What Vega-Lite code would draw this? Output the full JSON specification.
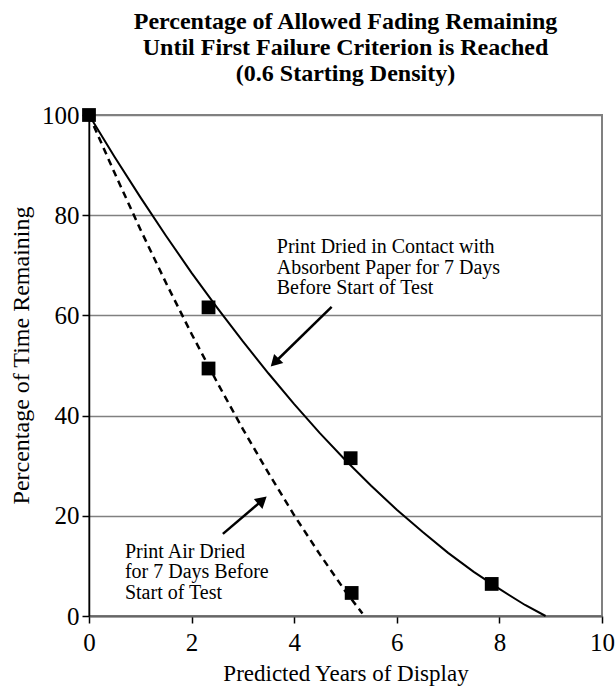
{
  "$schema": "https://vega.github.io/schema/vega-lite/v6.json",
  "autosize": {"type": "none"},
  "width": 513,
  "height": 501,
  "padding": {"left": 89, "top": 115, "right": 13, "bottom": 80},
  "background": "white",
  "config": {
    "font": "Liberation Serif",
    "view": {"stroke": "#808080", "strokeWidth": 2},
    "axis": {"labelFont": "Liberation Serif", "titleFont": "Liberation Serif", "labelColor": "black", "titleColor": "black", "titleFontWeight": "normal"}
  },
  "title": {
    "text": ["Percentage of Allowed Fading Remaining", "Until First Failure Criterion is Reached", "(0.6 Starting Density)"],
    "font": "Liberation Serif",
    "fontSize": 24,
    "fontWeight": "bold",
    "color": "black",
    "anchor": "middle",
    "frame": "group",
    "lineHeight": 26,
    "offset": 17
  },
  "datasets": {
    "solid": [
      {"x": 0, "y": 100}, {"x": 0.5, "y": 91.6}, {"x": 1, "y": 83.6}, {"x": 1.5, "y": 75.9},
      {"x": 2, "y": 68.5}, {"x": 2.5, "y": 61.5}, {"x": 3, "y": 54.8}, {"x": 3.5, "y": 48.4},
      {"x": 4, "y": 42.3}, {"x": 4.5, "y": 36.5}, {"x": 5, "y": 31.1}, {"x": 5.5, "y": 26.0},
      {"x": 6, "y": 21.2}, {"x": 6.5, "y": 16.8}, {"x": 7, "y": 12.6}, {"x": 7.5, "y": 8.8},
      {"x": 8, "y": 5.4}, {"x": 8.5, "y": 2.2}, {"x": 8.9, "y": 0}
    ],
    "dashed": [
      {"x": 0, "y": 100}, {"x": 0.5, "y": 88.4}, {"x": 1, "y": 77.2}, {"x": 1.5, "y": 66.5},
      {"x": 2, "y": 56.3}, {"x": 2.5, "y": 46.6}, {"x": 3, "y": 37.3}, {"x": 3.5, "y": 28.5},
      {"x": 4, "y": 20.1}, {"x": 4.5, "y": 12.3}, {"x": 5, "y": 4.9}, {"x": 5.33, "y": 0.5}
    ],
    "pts": [
      {"x": 0, "y": 100}, {"x": 2.33, "y": 61.6}, {"x": 2.33, "y": 49.4},
      {"x": 5.1, "y": 31.5}, {"x": 5.12, "y": 4.6}, {"x": 7.85, "y": 6.4}
    ],
    "arrows": [
      {"x": 4.73, "y": 61.7, "x2": 3.62, "y2": 50.6, "hx": 3.62, "hy": 50.6, "angle": 225},
      {"x": 2.61, "y": 16.4, "x2": 3.38, "y2": 23.1, "hx": 3.38, "hy": 23.1, "angle": 49}
    ],
    "notes": [
      {"x": 3.66, "y": 75.6, "label": "Print Dried in Contact with\nAbsorbent Paper for 7 Days\nBefore Start of Test"},
      {"x": 0.70, "y": 14.8, "label": "Print Air Dried\nfor 7 Days Before\nStart of Test"}
    ]
  },
  "encoding": {
    "x": {"type": "quantitative"},
    "y": {"type": "quantitative"}
  },
  "layer": [
    {
      "data": {"name": "solid"},
      "mark": {"type": "line", "color": "black", "strokeWidth": 2},
      "encoding": {
        "x": {"field": "x", "type": "quantitative", "scale": {"domain": [0, 10], "nice": false},
          "axis": {"title": "Predicted Years of Display", "values": [0, 2, 4, 6, 8, 10], "grid": false,
            "domainColor": "#666666", "domainWidth": 2, "tickColor": "black", "tickWidth": 1.5, "tickSize": 7,
            "labelFontSize": 25, "labelPadding": 7, "titleFontSize": 23, "titlePadding": 7, "labelFlush": false}},
        "y": {"field": "y", "type": "quantitative", "scale": {"domain": [0, 100], "nice": false},
          "axis": {"title": "Percentage of Time Remaining", "values": [0, 20, 40, 60, 80, 100], "grid": true,
            "gridColor": "#808080", "gridWidth": 1.5, "gridOpacity": 1,
            "domainColor": "black", "domainWidth": 1.5, "tickColor": "black", "tickWidth": 1.5, "tickSize": 7,
            "labelFontSize": 25, "labelPadding": 3, "titleFontSize": 24, "titlePadding": 8, "titleY": 240}}
      }
    },
    {
      "data": {"name": "dashed"},
      "mark": {"type": "line", "color": "black", "strokeWidth": 2.5, "strokeDash": [7, 5]},
      "encoding": {"x": {"field": "x", "type": "quantitative"}, "y": {"field": "y", "type": "quantitative"}}
    },
    {
      "data": {"name": "pts"},
      "mark": {"type": "point", "shape": "square", "filled": true, "color": "black", "size": 190, "opacity": 1},
      "encoding": {"x": {"field": "x", "type": "quantitative"}, "y": {"field": "y", "type": "quantitative"}}
    },
    {
      "data": {"name": "arrows"},
      "mark": {"type": "rule", "color": "black", "strokeWidth": 2.5},
      "encoding": {"x": {"field": "x", "type": "quantitative"}, "y": {"field": "y", "type": "quantitative"},
        "x2": {"field": "x2"}, "y2": {"field": "y2"}}
    },
    {
      "data": {"name": "arrows"},
      "mark": {"type": "point", "shape": "triangle-up", "filled": true, "color": "black", "size": 170, "opacity": 1},
      "encoding": {"x": {"field": "hx", "type": "quantitative"}, "y": {"field": "hy", "type": "quantitative"},
        "angle": {"field": "angle", "type": "quantitative", "scale": null}}
    },
    {
      "data": {"name": "notes"},
      "mark": {"type": "text", "align": "left", "baseline": "top", "font": "Liberation Serif", "fontSize": 20, "lineHeight": 20.5, "lineBreak": "\n", "color": "black"},
      "encoding": {"x": {"field": "x", "type": "quantitative"}, "y": {"field": "y", "type": "quantitative"},
        "text": {"field": "label"}}
    }
  ]
}
